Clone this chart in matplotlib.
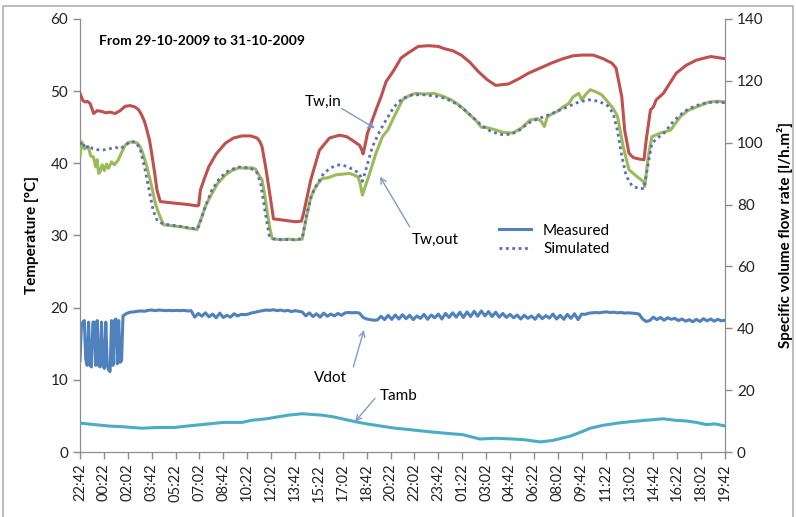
import numpy as np
import matplotlib
matplotlib.use("Agg")
import matplotlib.pyplot as plt
from matplotlib.patches import Rectangle
from matplotlib.lines import Line2D

plt.rcParams['font.family'] = ['Lato', 'DejaVu Sans']

# ---------------- data (hours after 29-10-2009 22:42) ----------------
tick_labels = ["22:42", "00:22", "02:02", "03:42", "05:22", "07:02", "08:42", "10:22",
               "12:02", "13:42", "15:22", "17:02", "18:42", "20:22", "22:02", "23:42",
               "01:22", "03:02", "04:42", "06:22", "08:02", "09:42", "11:22", "13:02",
               "14:42", "16:22", "18:02", "19:42"]

tw_in_hours = [0, 0.2, 0.35, 0.5, 0.7, 0.85, 0.95, 1.2, 1.5, 1.8, 2.1, 2.45, 2.8, 3.15, 3.5,
               3.85, 4.1, 4.3, 4.5, 4.67, 4.85, 5.0, 5.2, 5.37, 5.6, 6.5, 7.5, 8.2, 8.28, 8.4,
               8.7, 8.98, 9.5, 10.15, 10.7, 11.3, 11.9, 12.36, 12.55, 12.7, 12.95, 13.2, 13.5,
               14.3, 15.05, 15.45, 15.6, 16.1, 16.7, 17.4, 18.1, 18.6, 19.0, 19.5, 19.65, 19.75,
               19.9, 20.06, 20.65, 21.0, 21.35, 21.9, 22.4, 22.9, 23.6, 24.3, 25.0, 25.4, 26.0,
               26.6, 27.2, 27.8, 28.4, 29.0, 29.9, 30.6, 31.3, 32.1, 32.9, 33.7, 34.4, 35.0,
               35.8, 36.5, 37.1, 37.4, 37.8, 38.0, 38.3, 38.6, 39.0, 39.35, 39.5, 39.8, 40.0,
               40.2, 40.7, 41.6, 42.3, 43.0, 44.0, 45.0]
tw_in_values = [49.7, 48.7, 48.5, 48.6, 48.3, 47.5, 46.9, 47.3, 47.2, 47.0, 47.1, 46.9, 47.3, 47.9, 48.0,
                47.8, 47.4, 46.7, 45.8, 44.6, 43.2, 41.4, 38.8, 36.3, 34.7, 34.5, 34.3, 34.1, 34.2, 36.3,
                38.0, 39.5, 41.3, 42.8, 43.5, 43.8, 43.8, 43.5, 43.0, 42.3, 39.5, 36.3, 32.3,
                32.1, 31.9, 32.0, 33.1, 37.7, 41.8, 43.5, 43.9, 43.7, 43.2, 42.5, 41.9, 41.3,
                42.6, 44.2, 47.4, 49.2, 51.3, 52.9, 54.6, 55.3, 56.2, 56.3, 56.2, 55.9, 55.6,
                55.0, 54.0, 52.7, 51.6, 50.8, 51.0, 51.7, 52.5, 53.2, 53.9, 54.5, 54.9, 55.0,
                55.0, 54.5, 53.9, 53.2, 49.2, 44.6, 41.4, 40.8, 40.6, 40.5, 43.2, 47.4, 47.8,
                48.8, 49.7, 52.5, 53.6, 54.3, 54.8, 54.5]

tw_out_hours = [0, 0.12, 0.3, 0.58, 0.75, 0.93, 1.1, 1.2, 1.3, 1.4, 1.55, 1.7, 1.85, 1.98, 2.2,
                2.4, 2.68, 2.9, 3.15, 3.4, 3.73, 4.0, 4.2, 4.45, 4.67, 5.0, 5.25, 5.48, 5.83, 6.2,
                6.6, 7.1, 7.6, 8.0, 8.16, 8.5, 8.8, 9.2, 9.6, 10.15, 10.6, 11.1, 11.6, 12.0, 12.25,
                12.45, 12.7, 12.9, 13.07, 13.25, 13.4, 14.0, 14.5, 15.05, 15.5, 15.86, 16.1, 16.45,
                16.9, 17.3, 17.85, 18.3, 18.8, 19.1, 19.4, 19.55, 19.7, 19.85, 20.06, 20.35, 20.65,
                21.1, 21.5, 21.8, 22.2, 22.5, 22.9, 23.4, 24.0, 24.7, 25.3, 25.9, 26.5, 27.1, 27.6,
                28.0, 28.5, 29.05, 29.5, 30.2, 30.8, 31.4, 31.9, 32.15, 32.4, 32.6, 32.8, 33.3,
                33.7, 34.1, 34.4, 34.8, 35.0, 35.3, 35.6, 36.0, 36.4, 36.7, 37.2, 37.5, 37.9, 38.3,
                38.9, 39.3, 39.4, 39.65, 39.9, 40.5, 41.2, 41.9, 42.4, 43.0, 43.9, 44.5, 45.0]
tw_out_values = [40.9, 43.0, 42.0, 42.3, 41.0, 40.9, 39.5, 40.5, 38.6, 38.8, 39.8, 39.0, 39.9, 39.3, 40.2,
                 39.8, 40.5, 41.5, 42.5, 42.9, 43.0, 42.8, 42.3, 41.0, 39.5, 36.8, 34.5, 33.1, 31.5, 31.4,
                 31.3, 31.2, 31.0, 30.9, 30.8, 32.6, 34.3, 35.8, 37.2, 38.4, 39.0, 39.4, 39.3, 39.4, 39.2,
                 38.5, 37.7, 35.5, 33.1, 31.0, 29.6, 29.4, 29.5, 29.4, 29.5, 33.1, 35.3, 36.8,
                 37.9, 38.0, 38.4, 38.5, 38.6, 38.4, 38.1, 37.2, 35.6, 36.5, 37.7, 39.5, 41.4,
                 43.7, 44.7, 46.0, 47.6, 48.8, 49.3, 49.7, 49.6, 49.7, 49.3, 48.8, 48.0, 46.9, 46.0,
                 45.0, 44.9, 44.6, 44.3, 44.2, 44.9, 46.0, 46.2, 45.9, 45.1, 46.4, 46.7, 47.2,
                 47.8, 48.3, 49.2, 49.7, 48.8, 49.6, 50.2, 49.9, 49.5, 48.8, 47.6, 46.5, 42.3, 39.1,
                 38.1, 37.5, 36.8, 41.0, 43.7, 44.2, 44.6, 46.5, 47.3, 47.8, 48.5, 48.6, 48.5]

tw_sim_hours = [0, 0.15, 0.4, 0.6, 0.9, 1.5, 2.0, 2.5, 2.8, 3.15, 3.5, 3.9, 4.2, 4.5, 4.8, 5.1, 5.4,
                5.8, 6.5, 7.5, 8.1, 8.3, 8.7, 9.2, 9.7, 10.2, 11.0, 11.8, 12.3, 12.6, 12.9, 13.2,
                13.5, 15.1, 15.5, 15.8, 16.2, 16.6, 17.0, 17.5, 18.1, 18.6, 19.1, 19.5, 19.7, 19.9,
                20.4, 20.9, 21.35, 21.9, 22.5, 23.2, 24.0, 24.8, 25.5, 26.2, 26.9, 27.5, 28.0, 28.6,
                29.3, 30.0, 30.6, 31.3, 32.0, 32.8, 33.5, 34.1, 34.8, 35.5, 36.2, 36.8, 37.2, 37.5,
                37.8, 38.1, 38.5, 39.0, 39.35, 39.6, 39.9, 40.3, 40.8, 41.3, 41.8, 42.4, 43.0, 43.7,
                44.3, 45.0]
tw_sim_values = [42.6, 43.0, 42.0, 42.5, 42.0, 41.8, 42.0, 42.2, 42.0, 42.5, 43.0, 42.9, 42.0, 39.5, 36.5, 33.5, 32.0,
                 31.6, 31.4, 31.1, 30.9, 31.3, 33.8, 36.3, 37.8, 38.8, 39.5, 39.4, 38.9, 37.3, 33.5, 30.0,
                 29.5, 29.4, 29.6, 32.8, 35.8, 37.3, 38.6, 39.4, 39.8, 39.6, 39.1, 38.6, 37.5, 38.8,
                 42.3, 44.4, 46.0, 47.8, 49.0, 49.5, 49.5, 49.3, 49.0, 48.3, 47.3, 46.2, 45.3, 44.5,
                 44.0, 44.0, 44.5, 45.6, 46.2, 46.8, 47.4, 47.9, 48.5, 48.8, 48.6, 48.0, 46.9, 44.5,
                 41.0, 38.3, 36.9, 36.5, 36.5, 39.5, 42.8, 43.5, 44.3, 45.6, 46.6, 47.5, 48.0, 48.4,
                 48.5, 48.4]

tamb_hours = [0, 1.0, 2.0, 3.0, 4.3, 5.5, 6.6, 7.5, 8.5, 9.0, 10.0, 11.3, 12.0, 13.0, 13.6, 14.5,
              15.5, 16.2, 16.9, 17.6, 18.3, 19.2, 20.0, 20.65, 21.3, 22.0, 23.0, 24.4, 25.5, 26.7,
              27.3, 27.9, 29.0, 30.2, 31.0, 32.1, 33.0, 33.6, 34.2, 35.0, 35.6, 36.5, 37.5, 38.4,
              39.5, 40.7, 41.5, 42.3, 43.0, 43.7, 44.3, 45.0]
tamb_values = [4.0, 3.8, 3.6, 3.5, 3.3, 3.4, 3.4, 3.6, 3.8, 3.9, 4.1, 4.1, 4.4, 4.6, 4.8, 5.1,
               5.3, 5.2, 5.1, 4.9, 4.6, 4.2, 3.9, 3.7, 3.5, 3.3, 3.1, 2.8, 2.6, 2.4,
               2.1, 1.8, 1.9, 1.8, 1.7, 1.4, 1.6, 1.9, 2.2, 2.8, 3.3, 3.7, 4.0, 4.2,
               4.4, 4.6, 4.4, 4.3, 4.1, 3.8, 3.9, 3.6]

# Vdot [l/h.m2], right axis, in segments (start hour, end hour, values evenly spaced)
vdot_seg1 = [29.5, 41.0, 42.0, 42.5, 30.0, 28.0, 42.0, 28.0, 27.5, 42.0, 42.0, 28.0, 42.5, 28.0,
             27.5, 42.0, 28.0, 27.0, 42.0, 28.0, 26.5, 26.0, 42.5, 28.0, 42.5, 43.0, 28.5, 42.5,
             29.0, 29.5, 44.0]
vdot_seg2 = [44.8, 45.2, 45.3, 45.5, 45.6, 45.5, 45.8, 45.9, 45.7, 45.9, 45.8, 45.7, 45.8, 45.7,
             45.8, 45.7, 45.8, 45.6, 45.7,
             43.6, 44.8, 43.9, 45.0, 43.7, 44.6, 43.4, 44.9, 43.5, 44.2, 43.6, 44.7, 44.0, 44.5,
             44.4, 44.6, 45.0,
             45.2, 45.5, 45.7, 45.9, 45.8, 46.0, 45.7, 45.9, 45.6, 45.8, 45.4, 45.7, 45.5, 45.3,
             44.0, 45.0, 43.8, 44.7, 43.6, 44.9, 43.9, 44.6, 44.0, 44.8, 44.2, 45.0, 45.1,
             45.0, 45.1, 44.9,
             43.5, 43.0, 42.8, 42.6, 42.7, 43.9, 42.8, 44.2, 42.9, 44.3, 43.0, 44.4, 43.1, 44.2,
             42.8, 44.0, 43.2, 44.5, 42.9, 44.3, 43.4, 44.6, 43.0, 44.8, 43.5, 45.0, 43.6, 45.2,
             43.5, 45.3, 43.8, 45.5, 43.9, 45.6, 44.0, 45.4, 43.8, 45.2, 43.6, 44.8, 43.5, 44.5,
             43.4, 44.3, 43.0, 44.2, 43.2, 44.0, 42.9, 44.4, 43.1, 44.1, 43.3, 44.6, 43.0, 44.2,
             42.9, 44.5, 43.2, 44.7, 42.8, 44.6, 44.5,
             44.9, 45.0, 45.1, 45.0, 45.2, 45.3, 45.1, 45.2, 45.0, 45.1, 44.9, 45.0, 44.9, 44.8, 44.6,
             43.0, 42.2, 42.5,
             43.6, 42.8, 43.5, 42.6, 43.4, 42.9, 43.2, 42.5, 43.0, 42.3, 42.8, 42.1, 42.9, 42.2,
             43.1, 42.4, 43.0, 42.3, 42.9, 42.4, 42.6]

# ---------------- styling ----------------
c_in = '#C0504D'
c_out = '#9BBB59'
c_sim = '#5B6BBF'
c_vdot = '#4F81BD'
c_tamb = '#4BACC6'
c_axis = '#8C8C8C'
c_arrow = '#7F9CC8'

fig = plt.figure(figsize=(7.96, 5.17), dpi=100)
fig.patches.append(Rectangle((0.004, -0.01), 0.992, 0.999, transform=fig.transFigure,
                             fill=False, edgecolor='#B0B0B0', linewidth=1.2, zorder=0))
ax = fig.add_axes([80 / 796, 1 - 452 / 517, (725 - 80) / 796, (452 - 19) / 517])
ax2 = ax.twinx()

ax.plot(tw_in_hours, tw_in_values, color=c_in, lw=2.2, zorder=3)
ax.plot(tw_out_hours, tw_out_values, color=c_out, lw=2.2, zorder=3)
ax.plot(tw_sim_hours, tw_sim_values, color=c_sim, lw=2.0, ls=(0, (1, 1.3)), zorder=4)
ax.plot(tamb_hours, tamb_values, color=c_tamb, lw=2.2, zorder=3)

t1 = np.linspace(0.0, 3.0, len(vdot_seg1))
t2 = np.linspace(3.25, 45.0, len(vdot_seg2))
ax2.plot(np.concatenate([t1, t2]), vdot_seg1 + vdot_seg2, color=c_vdot, lw=2.2)

total_h = 45.0
ticks = np.linspace(0, total_h, len(tick_labels))
ax.set_xlim(0, total_h)
ax.set_xticks(ticks)
ax.set_xticklabels(tick_labels, rotation=90, fontsize=10.5, color='#222222')
ax.set_ylim(0, 60)
ax.set_yticks(range(0, 61, 10))
ax2.set_ylim(0, 140)
ax2.set_yticks(range(0, 141, 20))

for a in (ax, ax2):
    a.spines['top'].set_visible(False)
    for s in ('left', 'right', 'bottom'):
        a.spines[s].set_color(c_axis)
    a.tick_params(colors=c_axis, labelcolor='#222222', labelsize=11, length=5, width=1)
ax.tick_params(axis='x', labelsize=10.5)
ax.set_zorder(ax2.get_zorder() + 1)
ax.patch.set_visible(False)

ax.set_ylabel('Temperature [°C]', fontsize=11, fontweight='bold', labelpad=8)
ax2.set_ylabel('Specific volume flow rate [l/h.m²]', fontsize=11, fontweight='bold', labelpad=10)

ax.text(0.03, 0.95, 'From 29-10-2009 to 31-10-2009', transform=ax.transAxes,
        fontsize=10, fontweight='bold', va='center', ha='left')

# legend
handles = [Line2D([], [], color=c_vdot, lw=2.2),
           Line2D([], [], color=c_sim, lw=2.0, ls=(0, (1, 1.3)))]
ax.legend(handles, ['Measured', 'Simulated'], loc='upper left',
          bbox_to_anchor=((485 - 80) / 645, 1 - (210 - 19) / 433), frameon=False,
          fontsize=11, handlelength=2.1, labelspacing=0.3)

# annotations: label text + separate arrow
ap = dict(arrowstyle='->', color=c_arrow, lw=1.0, shrinkA=0, shrinkB=0)
labels = [('Tw,in', (16.95, 48.5), (18.26, 47.6), (20.58, 44.85)),
          ('Tw,out', (24.77, 29.4), (23.0, 31.2), (20.93, 38.15)),
          ('Vdot', (17.44, 10.25), (19.07, 11.8), (19.81, 16.9)),
          ('Tamb', (22.2, 7.76), (20.58, 7.44), (19.19, 4.2))]
for txt, tpos, a_from, a_to in labels:
    ax.text(tpos[0], tpos[1], txt, fontsize=11, ha='center', va='center', zorder=6)
    ax.annotate('', xy=a_to, xytext=a_from, arrowprops=ap, zorder=6)

fig.savefig('out.png', dpi=100)
